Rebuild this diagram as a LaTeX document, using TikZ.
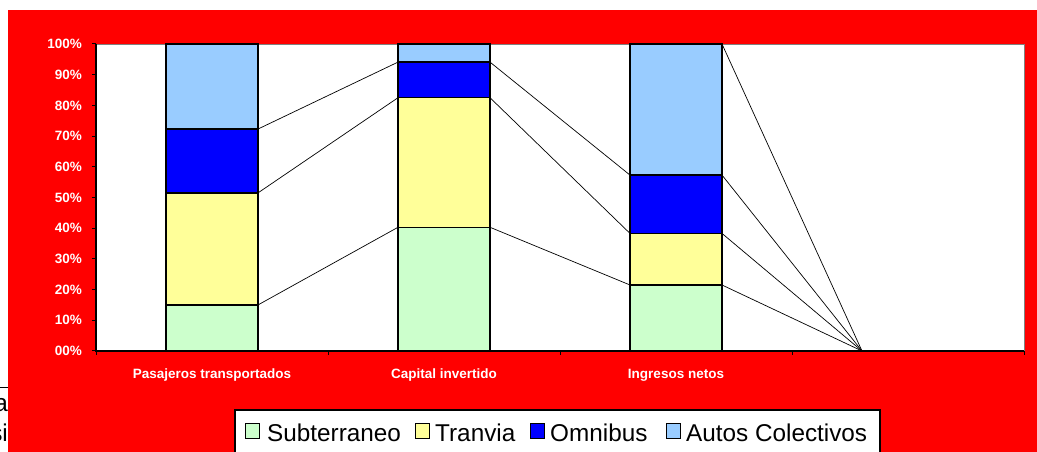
\documentclass[tikz,border=0pt]{standalone}
\usepackage{fontspec}
\setmainfont{Liberation Sans}
\usetikzlibrary{positioning}
\definecolor{chartred}{HTML}{FF0000}
\definecolor{subte}{HTML}{CCFFCC}
\definecolor{tranvia}{HTML}{FFFF99}
\definecolor{omnibus}{HTML}{0000FF}
\definecolor{autos}{HTML}{99CCFF}
\tikzset{
  barseg/.style={draw=black,line width=1.5pt},
  serieline/.style={draw=black,line width=0.7pt},
  axislbl/.style={text=white,inner sep=0pt,font=\bfseries\fontsize{13.5}{14}\selectfont},
  legmark/.style={draw=black,line width=1pt,minimum width=14pt,minimum height=15pt,inner sep=0pt},
  legtext/.style={inner sep=0pt,anchor=base west,font=\fontsize{24.3}{26}\selectfont},
}

\begin{document}
\begin{tikzpicture}[x=1pt,y=1pt]
  \useasboundingbox (0,0) rectangle (1037,452);
  % restos de la pagina
  \begin{scope}
    \clip (0,0) rectangle (8,70);
    \draw[line width=1pt] (0,64) -- (8,64);
    \node[legtext,anchor=base east] (fraga) at (8,40) {a};
    \node[legtext,anchor=base east] (fragi) at (8,10) {si};
  \end{scope}
  % fondo
  \fill[chartred] (8,0) rectangle (1037,442);
  \fill[white] (96,101) rectangle (1024,408);
  \draw[gray,line width=0.8pt] (96,408) -- (1024,408) -- (1024,101);

  \begin{scope}[shift={(0,101)},y=3.07pt]
    % barras
    \foreach \cx/\a/\b/\c [count=\i] in {212/15/51.5/72.3,444/40.3/82.5/94.1,676/21.5/38.3/57.3}{
      \draw[barseg,fill=subte] (\cx-46,0) rectangle (\cx+46,\a);
      \draw[barseg,fill=tranvia] (\cx-46,\a) rectangle (\cx+46,\b);
      \draw[barseg,fill=omnibus] (\cx-46,\b) rectangle (\cx+46,\c);
      \draw[barseg,fill=autos] (\cx-46,\c) rectangle (\cx+46,100);
      \coordinate (b\i-1-l) at (\cx-46,\a);
      \coordinate (b\i-1-r) at (\cx+46,\a);
      \coordinate (b\i-2-l) at (\cx-46,\b);
      \coordinate (b\i-2-r) at (\cx+46,\b);
      \coordinate (b\i-3-l) at (\cx-46,\c);
      \coordinate (b\i-3-r) at (\cx+46,\c);
      \coordinate (b\i-4-r) at (\cx+46,100);
    }
    \coordinate (b4) at (862,0);
    % lineas de series
    \foreach \j in {1,2,3}{
      \draw[serieline] (b1-\j-r) -- (b2-\j-l);
      \draw[serieline] (b2-\j-r) -- (b3-\j-l);
    }
    \foreach \j in {1,2,3,4}
      \draw[serieline] (b3-\j-r) -- (b4);
    % ejes
    \draw[black,line width=1.5pt] (96,100) -- (96,0) -- (1024,0);
    \foreach \v in {0,...,10}{
      \draw[black,line width=1pt] (92,\v*10) -- (96,\v*10);
      \node[axislbl,anchor=east] (ylbl\v) at (82,\v*10) {\v0\%};
    }
    \foreach \k in {0,...,4}
      \draw[black,line width=1pt] (96+232*\k,0) -- (96+232*\k,-1.3);
  \end{scope}
  \node[axislbl] (cat1) at (212,77) {Pasajeros transportados};
  \node[axislbl] (cat2) at (444,77) {Capital invertido};
  \node[axislbl] (cat3) at (676,77) {Ingresos netos};

  % leyenda
  \draw[black,line width=1.5pt,fill=white] (235,42) rectangle (880,-5);
  \node[legmark,fill=subte] (m1) at (252,20.5) {};
  \node[legtext] (t1) at (267,10) {Subterraneo};
  \node[legmark,fill=tranvia] (m2) at (422.5,20.5) {};
  \node[legtext] (t2) at (435,10) {Tranvia};
  \node[legmark,fill=omnibus] (m3) at (537.5,20.5) {};
  \node[legtext] (t3) at (550,10) {Omnibus};
  \node[legmark,fill=autos] (m4) at (673,20.5) {};
  \node[legtext] (t4) at (686,10) {Autos Colectivos};
\end{tikzpicture}
\end{document}
